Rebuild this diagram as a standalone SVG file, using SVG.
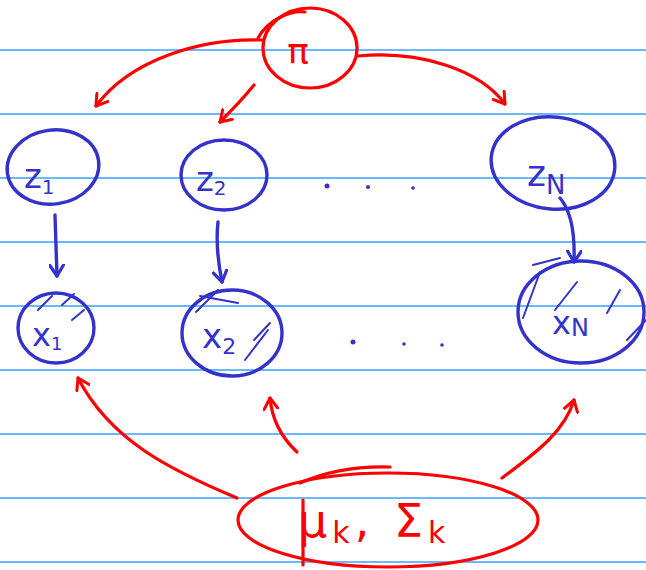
<svg xmlns="http://www.w3.org/2000/svg" width="646" height="570" viewBox="0 0 646 570">
<defs>
<style>
.rule{stroke:#3aa0ff;stroke-width:1.6}
.r{fill:none;stroke:#f00;stroke-width:3.2;stroke-linecap:round;stroke-linejoin:round}
.b{fill:none;stroke:#3333cc;stroke-width:3.4;stroke-linecap:round;stroke-linejoin:round}
.h{fill:none;stroke:#3333cc;stroke-width:2;stroke-linecap:round}
.tr{fill:#f00;font-family:"DejaVu Sans",sans-serif}
.tb{fill:#3333cc;font-family:"DejaVu Sans",sans-serif}
.dot{fill:#3333cc}
</style>
<marker id="ar" viewBox="-12 -8 14 16" refX="0" refY="0" markerWidth="14" markerHeight="16" markerUnits="userSpaceOnUse" orient="auto">
<polyline points="-11,-7 0,0 -11,7" fill="none" stroke="#f00" stroke-width="3" stroke-linecap="round" stroke-linejoin="round"/>
</marker>
<marker id="ab" viewBox="-12 -8 14 16" refX="0" refY="0" markerWidth="14" markerHeight="16" markerUnits="userSpaceOnUse" orient="auto">
<polyline points="-11,-7 0,0 -11,7" fill="none" stroke="#3333cc" stroke-width="3.2" stroke-linecap="round" stroke-linejoin="round"/>
</marker>
</defs>
<rect width="646" height="570" fill="#fff"/>
<g id="paper">
<line class="rule" x1="0" y1="50" x2="646" y2="50"/>
<line class="rule" x1="0" y1="114" x2="646" y2="114"/>
<line class="rule" x1="0" y1="178" x2="646" y2="178"/>
<line class="rule" x1="0" y1="242" x2="646" y2="242"/>
<line class="rule" x1="0" y1="306" x2="646" y2="306"/>
<line class="rule" x1="0" y1="370" x2="646" y2="370"/>
<line class="rule" x1="0" y1="434" x2="646" y2="434"/>
<line class="rule" x1="0" y1="498" x2="646" y2="498"/>
<line class="rule" x1="0" y1="562" x2="646" y2="562"/>
</g>
<g id="connectors">
<path class="r" d="M262,40 C200,38 130,60 96,106" marker-end="url(#ar)"/>
<path class="r" d="M254,85 C242,100 230,112 220,122" marker-end="url(#ar)"/>
<path class="r" d="M358,56 C420,50 480,70 505,104" marker-end="url(#ar)"/>
<path class="b" d="M55,215 L57,276" marker-end="url(#ab)"/>
<path class="b" d="M218,222 C216,240 218,262 222,282" marker-end="url(#ab)"/>
<path class="b" d="M560,198 C572,212 575,235 574,262" marker-end="url(#ab)"/>
<path class="r" d="M237,498 C170,470 110,440 78,378" marker-end="url(#ar)"/>
<path class="r" d="M297,452 C282,438 272,420 270,398" marker-end="url(#ar)"/>
<path class="r" d="M502,478 C540,450 565,430 574,400" marker-end="url(#ar)"/>
</g>
<g id="pi">
<ellipse class="r" cx="310" cy="48" rx="47" ry="40"/>
<path class="r" d="M258,38 C268,20 290,10 305,12"/>
<text class="tr" x="298" y="64" font-size="36" text-anchor="middle">π</text>
</g>
<g id="z1">
<ellipse class="b" cx="53" cy="167" rx="46" ry="37" transform="rotate(-8 53 167)"/>
<text class="tb" x="24" y="188" font-size="34">z<tspan font-size="20" dy="6">1</tspan></text>
</g>
<g id="z2">
<ellipse class="b" cx="224" cy="175" rx="43" ry="35"/>
<text class="tb" x="196" y="191" font-size="34">z<tspan font-size="20" dy="4">2</tspan></text>
</g>
<g id="zdots">
<circle class="dot" cx="327" cy="186" r="2.5"/>
<circle class="dot" cx="368" cy="187" r="2"/>
<circle class="dot" cx="413" cy="188" r="1.8"/>
</g>
<g id="zN">
<ellipse class="b" cx="553" cy="163" rx="62" ry="46" transform="rotate(6 553 163)"/>
<text class="tb" x="527" y="186" font-size="36">z<tspan font-size="26" dy="8">N</tspan></text>
</g>
<g id="x1">
<ellipse class="b" cx="56" cy="328" rx="38" ry="35"/>
<text class="tb" x="32" y="346" font-size="32">x<tspan font-size="18" dy="4">1</tspan></text>
<path class="h" d="M38,310 L52,296 M62,305 L74,294 M72,320 L84,310"/>
</g>
<g id="x2">
<ellipse class="b" cx="232" cy="333" rx="50" ry="43"/>
<text class="tb" x="202" y="348" font-size="34">x<tspan font-size="22" dy="6">2</tspan></text>
<path class="h" d="M196,312 L218,290 M200,296 L238,303 M254,340 L270,323 M245,360 L268,330"/>
</g>
<g id="xdots">
<circle class="dot" cx="353" cy="342" r="2.5"/>
<circle class="dot" cx="404" cy="344" r="1.8"/>
<circle class="dot" cx="442" cy="345" r="1.8"/>
</g>
<g id="xN">
<ellipse class="b" cx="581" cy="312" rx="63" ry="51"/>
<text class="tb" x="552" y="334" font-size="32">x<tspan font-size="24" dy="2">N</tspan></text>
<path class="h" d="M523,318 L540,272 M533,265 L560,258 M555,310 L577,282 M620,290 L607,313 M646,320 L627,340"/>
</g>
<g id="params">
<ellipse class="r" cx="388" cy="520" rx="150" ry="47"/>
<path class="r" d="M300,483 C330,470 360,466 390,467"/>
<path class="r" d="M303,500 L303,565"/>
<text class="tr" x="298" y="537" font-size="46" letter-spacing="5">μ<tspan font-size="30" dy="6">k</tspan><tspan dy="-6">, Σ</tspan><tspan font-size="30" dy="6">k</tspan></text>
</g>
</svg>
